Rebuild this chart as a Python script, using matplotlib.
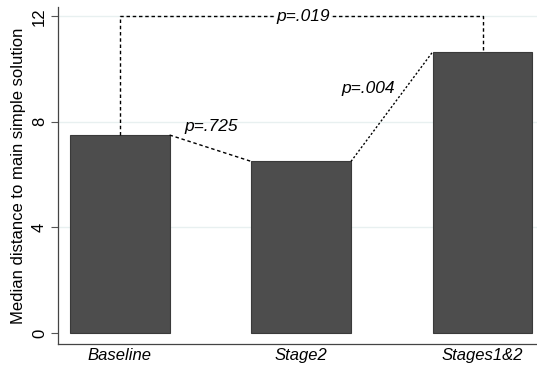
import numpy as np
import matplotlib
matplotlib.use("Agg")
import matplotlib.pyplot as plt

plt.rcParams['font.family'] = ['Liberation Sans', 'DejaVu Sans']

groups = ["Baseline", "Stage2", "Stages1&2"]
medians = [7.5, 6.5, 10.65]
yticks = [0, 4, 8, 12]
p_labels = ["p=.725", "p=.004", "p=.019"]

fig = plt.figure(figsize=(5.37, 3.68), dpi=100)
ax = fig.add_axes([0.108, 0.065, 0.892, 0.916])

x = np.arange(len(groups))
w = 0.55
ax.bar(x, medians, width=w, color='#4d4d4d', edgecolor='#3a3a3a', linewidth=0.8, zorder=2)

ax.set_xlim(-0.34, 2.3)
ax.set_ylim(-0.42, 12.35)
ax.set_yticks(yticks)
ax.set_yticklabels([str(t) for t in yticks], rotation=90, va='center', fontsize=12)
ax.set_xticks(x)
ax.set_xticklabels(groups, fontstyle='italic', fontsize=12)
ax.tick_params(axis='x', length=0, pad=3)
ax.tick_params(axis='y', length=5, width=0.8, color='#555555', pad=3)
ax.set_ylabel("Median distance to main simple solution", fontsize=12, labelpad=4)
for t in yticks[1:]:
    ax.axhline(t, color='#e8f0f0', linewidth=1, zorder=0)

ax.spines['top'].set_visible(False)
ax.spines['right'].set_visible(False)
for s in ['left', 'bottom']:
    ax.spines[s].set_color('#444444')
    ax.spines[s].set_linewidth(0.9)

# comparison lines
ax.plot([x[0] + w / 2, x[1] - w / 2], [medians[0], medians[1]], color='black',
        linestyle=(0, (2.5, 2)), linewidth=1, zorder=3)
ax.plot([x[1] + w / 2, x[2] - w / 2], [medians[1], medians[2]], color='black',
        linestyle=(0, (1.5, 1.5)), linewidth=1, zorder=3)
ax.plot([x[0], x[0], x[2], x[2]], [medians[0], 12, 12, medians[2]], color='black',
        linestyle=(0, (2.5, 2)), linewidth=1, zorder=3)

ax.text(0.505, 7.55, p_labels[0], fontstyle='italic', fontsize=12.5, ha='center', va='bottom')
ax.text(1.37, 9.28, p_labels[1], fontstyle='italic', fontsize=12.5, ha='center', va='center')
ax.text(1.01, 12, p_labels[2], fontstyle='italic', fontsize=12.5, ha='center', va='center',
        bbox=dict(facecolor='white', edgecolor='none', pad=1), zorder=4)

fig.savefig("out.png", dpi=100)
